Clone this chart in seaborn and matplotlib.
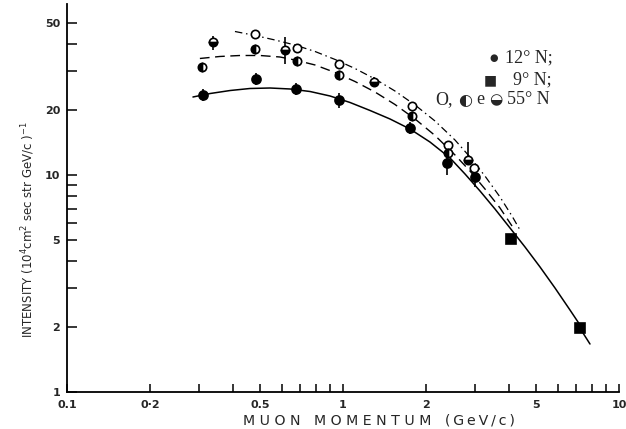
import numpy as np
import matplotlib
matplotlib.use("Agg")
import matplotlib.pyplot as plt
import seaborn as sns

# ---- measured points -------------------------------------------------------
# 12 deg N (filled circles)
p12 = [0.311, 0.484, 0.676, 0.967, 1.748, 2.38, 3.01]
i12 = [23.4, 27.7, 24.9, 22.2, 16.5, 11.4, 9.79]
i12_lo = [21.9, 26.0, 23.4, 20.4, 15.5, 10.0, 8.8]
i12_hi = [24.9, 29.5, 26.5, 23.9, 17.5, 12.1, 10.4]

# 9 deg N (squares)
p9 = [4.06, 7.22]
i9 = [5.07, 1.97]

# 55 deg N, three data sets
p55_open = [0.480, 0.681, 0.967, 1.778, 2.40, 2.98]
i55_open = [44.6, 38.5, 32.5, 20.8, 13.7, 10.8]

p55_half = [0.308, 0.480, 0.681, 0.967, 1.778, 2.40]
i55_half = [31.5, 38.1, 33.5, 28.9, 18.7, 12.6]

p55_bot = [0.338, 0.617, 1.295, 2.84]
i55_bot = [41.0, 37.7, 26.8, 11.7]
i55_bot_lo = [37.7, 32.5, 25.4, 11.1]
i55_bot_hi = [43.7, 43.3, 28.3, 14.2]

# ---- fitted curves --------------------------------------------------------
c12_p = [0.286, 0.330, 0.390, 0.460, 0.544, 0.643, 0.760, 0.897, 1.060,
         1.253, 1.480, 1.749, 2.066, 2.442, 2.767, 3.136, 3.554, 4.028,
         4.564, 5.173, 5.863, 6.644, 7.223]
c12_i = [22.88, 23.74, 24.51, 25.04, 25.17, 24.91, 24.25, 23.13, 21.59,
         19.83, 18.12, 16.29, 14.19, 11.98, 10.11, 8.44, 6.97, 5.70,
         4.66, 3.77, 3.015, 2.387, 2.036]
c12_tail_p = [7.406, 7.85]
c12_tail_i = [1.870, 1.664]

cdash_p = [0.303, 0.358, 0.424, 0.500, 0.591, 0.670, 0.792, 0.936, 1.105,
           1.306, 1.543, 1.824, 2.154, 2.545, 2.885, 3.269, 3.705, 4.096]
cdash_i = [34.43, 35.17, 35.54, 35.54, 34.98, 33.88, 32.14, 29.68, 26.97,
           24.12, 21.13, 18.12, 15.21, 12.37, 10.43, 8.62, 7.05, 5.82]

cdd_p = [0.406, 0.480, 0.567, 0.670, 0.792, 0.936, 1.105, 1.306, 1.543,
         1.824, 2.154, 2.545, 2.885, 3.269, 3.705, 4.096, 4.378]
cdd_i = [45.85, 43.95, 41.89, 39.72, 37.08, 34.07, 30.96, 27.70, 24.38,
         21.02, 17.74, 14.50, 12.10, 9.89, 7.92, 6.47, 5.58]

xticks_major = [0.1, 0.2, 0.5, 1, 2, 5, 10]
xtick_labels = ["0.1", "0·2", "0.5", "1", "2", "5", "10"]
xticks_minor = [0.3, 0.4, 0.6, 0.7, 0.8, 0.9, 3, 4, 6, 7, 8, 9]
yticks_major = [1, 2, 5, 10, 20, 50]
ytick_labels = ["1", "2", "5", "10", "20", "50"]
yticks_minor = [3, 4, 6, 7, 8, 9, 30, 40]

# ---- figure ----------------------------------------------------------------
sns.set_style("ticks")
plt.rcParams["font.family"] = ["DejaVu Sans"]
plt.rcParams["mathtext.default"] = "regular"

W, H = 626, 429
fig = plt.figure(figsize=(W / 100, H / 100), dpi=100)
ax = fig.add_axes([67 / W, 1 - 392 / H, 552 / W, 388 / H])
ax.set_xscale("log")
ax.set_yscale("log")
ax.set_xlim(0.1, 10)
ax.set_ylim(1, 10 ** (388 / 217))

ink = "black"

# curves
sns.lineplot(x=c12_p, y=c12_i, ax=ax, sort=False, color=ink, lw=1.1,
             estimator=None)
sns.lineplot(x=c12_tail_p, y=c12_tail_i, ax=ax, sort=False, color=ink,
             lw=1.1, estimator=None)
sns.lineplot(x=cdash_p, y=cdash_i, ax=ax, sort=False, color=ink, lw=1.0,
             estimator=None).lines[-1].set_dashes([7, 4])
sns.lineplot(x=cdd_p, y=cdd_i, ax=ax, sort=False, color=ink, lw=0.9,
             estimator=None).lines[-1].set_dashes([6, 3, 1.2, 3])

# error bars
ax.vlines(p12, i12_lo, i12_hi, color=ink, lw=1.2, zorder=3)
ax.vlines(p55_bot, i55_bot_lo, i55_bot_hi, color=ink, lw=1.2, zorder=3)

mk = dict(ax=ax, color=ink, linestyle="", estimator=None,
          markeredgecolor=ink, markeredgewidth=1.2, zorder=4)
sns.lineplot(x=p12, y=i12, marker="o", markersize=6.5, **mk)
sns.lineplot(x=p9, y=i9, marker="s", markersize=7.5, **mk)
sns.lineplot(x=p55_open, y=i55_open, marker="o", markersize=6,
             markerfacecolor="white", **mk)
sns.lineplot(x=p55_half, y=i55_half, marker="o", markersize=6,
             fillstyle="left", markerfacecoloralt="white", **mk)
sns.lineplot(x=p55_bot, y=i55_bot, marker="o", markersize=6,
             fillstyle="bottom", markerfacecoloralt="white", **mk)

# axes styling
for side in ("top", "right"):
    ax.spines[side].set_visible(False)
for side in ("left", "bottom"):
    ax.spines[side].set_linewidth(1.3)
    ax.spines[side].set_color(ink)

ax.set_xticks(xticks_major)
ax.set_xticklabels(xtick_labels)
ax.set_xticks(xticks_minor, minor=True)
ax.set_xticklabels([], minor=True)
ax.set_yticks(yticks_major)
ax.set_yticklabels(ytick_labels)
ax.set_yticks(yticks_minor, minor=True)
ax.set_yticklabels([], minor=True)

ax.tick_params(axis="both", which="both", direction="in", color=ink,
               width=1.1, labelsize=8)
ax.tick_params(axis="x", which="both", length=6, pad=6)
ax.tick_params(axis="y", which="both", length=7, pad=5)
for lab in ax.get_xticklabels() + ax.get_yticklabels():
    lab.set_fontweight("bold")

ax.set_xlabel("")
ax.set_ylabel("")
ax.grid(False)

fig.text(379 / W, 1 - 420 / H,
         " ".join("MUON") + "   " + " ".join("MOMENTUM") + "   "
         + "\u2009".join("(GeV/c)"),
         ha="center", va="center", fontsize=10.2)
fig.text(28 / W, 1 - 230 / H,
         r"INTENSITY (10$^4$cm$^2$ sec str GeV/c )$^{-1}$",
         rotation=90, ha="center", va="center", fontsize=8.5)

# key
serif = ["Liberation Serif", "DejaVu Serif"]
sym = ["DejaVu Sans"]
fs = 13
def put(px, py, s, fam, size=fs):
    fig.text(px / W, 1 - py / H, s, ha="left", va="center",
             family=fam, fontsize=size)

put(489, 58, "\u25CF", sym, 7)
put(505, 58, "12° N;", serif)
put(484, 80, "\u25A0", sym, 10)
put(513, 80, "9° N;", serif)
put(435, 100, "O,", serif)
put(458, 100, "\u25D0", sym, 11.5)
put(476, 100, "e", serif)
put(489, 100, "\u25D2", sym, 11)
put(507, 100, "55° N", serif)

fig.savefig("out.png", dpi=100, facecolor="white")
